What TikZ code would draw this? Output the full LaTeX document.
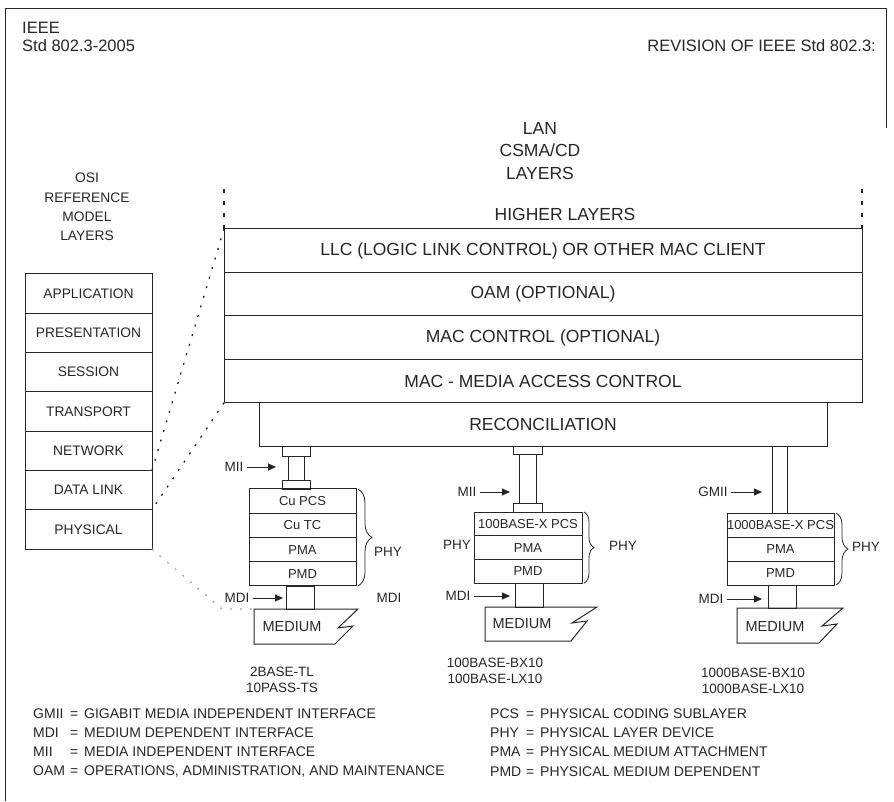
\documentclass[tikz,border=0pt]{standalone}
\usepackage{fontspec}
\setmainfont{Liberation Sans}
\usetikzlibrary{arrows.meta,positioning,decorations.pathreplacing}
\tikzset{
    layer/.style={draw, line width=1pt, minimum width=638pt,
                  minimum height=43.5pt, inner sep=0pt, outer sep=0pt,
                  font=\fontsize{17.5}{20}\selectfont},
    osi/.style={layer, minimum width=127pt, minimum height=39.3pt,
                font=\fontsize{13.8}{16}\selectfont},
    sub/.style={layer, minimum width=107pt, minimum height=24pt,
                font=\fontsize{13}{15}\selectfont},
    pipe/.style={draw, line width=1pt, inner sep=0pt, outer sep=0pt, anchor=north},
    flow/.style={-{Triangle[length=8pt,width=7pt]}, line width=1pt, shorten <=3pt},
    phybrace/.style={decorate, decoration={brace, amplitude=#1}, line width=0.8pt},
    link/.style={line width=1.3pt, dash pattern=on 2pt off 8pt},
    faint/.style={link, black!35},
    vdots/.style={line width=2pt, dash pattern=on 4pt off 8pt},
    frame/.style={line width=1pt},
    medium/.style={line width=1pt, line join=miter},
    note/.style={font=\fontsize{13.5}{16}\selectfont, inner sep=0pt},
    head/.style={font=\fontsize{16.5}{19}\selectfont, inner sep=0pt, anchor=west},
    title/.style={font=\fontsize{17.5}{21.5}\selectfont, align=center, inner sep=0pt},
    names/.style={note, align=center, font=\fontsize{13.5}{15.5}\selectfont},
    legend/.style={font=\fontsize{14}{16}\selectfont, anchor=west, inner sep=0pt},
}

\begin{document}
\begin{tikzpicture}[x=1pt, y=-1pt, color=black!85]

    \useasboundingbox (0,0) rectangle (894,801);
    \draw[frame] (5,801) -- (5,8) -- (886,8) -- (886,128);

    \node[head] (ieee) at (22,28) {IEEE};
    \node[head] (std) at (22,46) {Std 802.3-2005};
    \node[head, anchor=east] (rev) at (876,46) {REVISION OF IEEE Std 802.3:};

    \node[title, font=\fontsize{17.5}{22.5}\selectfont] (lan) at (540,151) {LAN\\CSMA/CD\\LAYERS};
    \node[title, font=\fontsize{13.8}{19.3}\selectfont] (osititle) at (87,207) {OSI\\REFERENCE\\MODEL\\LAYERS};
    \node[title] (higher) at (565,214) {HIGHER LAYERS};

    \node[layer] (llc) at (543,250.5) {LLC (LOGIC LINK CONTROL) OR OTHER MAC CLIENT};
    \node[layer, below=0pt of llc] (oam) {OAM (OPTIONAL)};
    \node[layer, below=0pt of oam] (macctl) {MAC CONTROL (OPTIONAL)};
    \node[layer, below=0pt of macctl] (mac) {MAC - MEDIA ACCESS CONTROL};
    \node[layer, minimum width=568pt, below=0pt of mac] (recon) {RECONCILIATION};
    \coordinate (topl) at (224,189);
    \coordinate (topr) at (862,189);
    \draw[vdots] (topl) -- (llc.north west);
    \draw[vdots] (topr) -- (llc.north east);

    \node[osi] (app) at (88.5,293.6) {APPLICATION};
    \node[osi, below=0pt of app] (pres) {PRESENTATION};
    \node[osi, below=0pt of pres] (sess) {SESSION};
    \node[osi, below=0pt of sess] (trans) {TRANSPORT};
    \node[osi, below=0pt of trans] (net) {NETWORK};
    \node[osi, below=0pt of net] (dlink) {DATA LINK};
    \node[osi, below=0pt of dlink] (phys) {PHYSICAL};
    \draw[link] (llc.north west) -- (dlink.north east);
    \draw[link] (mac.south west) -- (dlink.south east);

    \node[sub, minimum height=24.25pt] (cupcs) at (302.5,501.1) {Cu PCS};
    \node[sub, minimum height=24.25pt, below=0pt of cupcs] (cutc) {Cu TC};
    \node[sub, minimum height=24.25pt, below=0pt of cutc] (pma1) {PMA};
    \node[sub, minimum height=24.25pt, below=0pt of pma1] (pmd1) {PMD};
    \node[pipe, minimum width=28pt, minimum height=10pt] (plug1) at (296,446.25) {};
    \node[pipe, minimum width=16pt, minimum height=24pt, below=0pt of plug1] (tube1) {};
    \node[pipe, minimum width=28pt, minimum height=9pt, below=0pt of tube1] (jack1) {};
    \node[pipe, minimum width=28pt, minimum height=23pt] (stem1) at (300,586) {};
    \node[note] (mii1) at (234,467) {MII};
    \draw[flow, shorten >=12pt] (mii1.east) -- (mii1 -| tube1.west);
    \node[note] (mdi1) at (237,598) {MDI};
    \draw[flow, shorten >=3pt] (mdi1.east) -- (mdi1 -| stem1.west);
    \node[note] (mdi1b) at (389,598) {MDI};
    \draw[phybrace=14pt] ([xshift=2pt]cupcs.north east) -- ([xshift=2pt]pmd1.south east);
    \node[note] (phy1) at (388,552) {PHY};
    \coordinate (m1) at (254,609);
    \draw[medium] (m1) -- ++(104,0) -- ++(-20,19) -- ++(15,-2) -- ++(-18,18) -- ++(-81,0) -- cycle;
    \node[note, font=\fontsize{14.5}{16}\selectfont] (med1) at (292,627) {MEDIUM};
    \draw[faint] (phys.south east) -- ([xshift=-32pt]m1) -- (m1);
    \node[names] (std1) at (282,680) {2BASE-TL\\10PASS-TS};

    \node[sub, minimum width=108pt, minimum height=23.7pt] (pcs2) at (528,523.85) {100BASE-X PCS};
    \node[sub, minimum width=108pt, minimum height=23.7pt, below=0pt of pcs2] (pma2) {PMA};
    \node[sub, minimum width=108pt, minimum height=23.7pt, below=0pt of pma2] (pmd2) {PMD};
    \node[pipe, minimum width=29pt, minimum height=8pt] (plug2) at (527.5,446.25) {};
    \node[pipe, minimum width=17pt, minimum height=49pt, below=0pt of plug2] (tube2) {};
    \node[pipe, minimum width=29pt, minimum height=8.75pt, below=0pt of tube2] (jack2) {};
    \node[pipe, minimum width=28pt, minimum height=24pt] (stem2) at (529,583.1) {};
    \node[note] (mii2) at (467,492) {MII};
    \draw[flow, shorten >=9pt] (mii2.east) -- (mii2 -| tube2.west);
    \node[note] (mdi2) at (458,596) {MDI};
    \draw[flow, shorten >=5pt] (mdi2.east) -- (mdi2 -| stem2.west);
    \node[note] (phy2a) at (457,545) {PHY};
    \draw[phybrace=10pt] ([xshift=2pt]pcs2.north east) -- ([xshift=2pt]pmd2.south east);
    \node[note] (phy2) at (623,546) {PHY};
    \coordinate (m2) at (485,607);
    \draw[medium] (m2) -- ++(112,0) -- ++(-25,16) -- ++(15,-2) -- ++(-16,20) -- ++(-86,0) -- cycle;
    \node[note, font=\fontsize{14.5}{16}\selectfont] (med2) at (522,624) {MEDIUM};
    \node[names] (std2) at (495,671) {100BASE-BX10\\100BASE-LX10};

    \node[sub] (pcs3) at (780.5,525) {1000BASE-X PCS};
    \node[sub, below=0pt of pcs3] (pma3) {PMA};
    \node[sub, below=0pt of pma3] (pmd3) {PMD};
    \node[pipe, minimum width=15pt, minimum height=66.75pt] (tube3) at (779.5,446.25) {};
    \node[pipe, minimum width=28pt, minimum height=23pt] (stem3) at (782,585) {};
    \node[note] (gmii3) at (713,492) {GMII};
    \draw[flow, shorten >=10pt] (gmii3.east) -- (gmii3 -| tube3.west);
    \node[note] (mdi3) at (711,599) {MDI};
    \draw[flow, shorten >=6pt] (mdi3.east) -- (mdi3 -| stem3.west);
    \draw[phybrace=12pt] ([xshift=2pt]pcs3.north east) -- ([xshift=2pt]pmd3.south east);
    \node[note] (phy3) at (866,547) {PHY};
    \coordinate (m3) at (737,608);
    \draw[medium] (m3) -- ++(106,0) -- ++(-21,18) -- ++(15,-2) -- ++(-18,19) -- ++(-82,0) -- cycle;
    \node[note, font=\fontsize{14.5}{16}\selectfont] (med3) at (775,627) {MEDIUM};
    \node[names] (std3) at (753,681) {1000BASE-BX10\\1000BASE-LX10};

    \node[legend] (lgmii) at (33,714) {\makebox[37pt][l]{GMII}\makebox[14pt][l]{=}GIGABIT MEDIA INDEPENDENT INTERFACE};
    \node[legend] (lmdi) at (33,733) {\makebox[37pt][l]{MDI}\makebox[14pt][l]{=}MEDIUM DEPENDENT INTERFACE};
    \node[legend] (lmii) at (33,752) {\makebox[37pt][l]{MII}\makebox[14pt][l]{=}MEDIA INDEPENDENT INTERFACE};
    \node[legend] (loam) at (33,771) {\makebox[37pt][l]{OAM}\makebox[14pt][l]{=}OPERATIONS, ADMINISTRATION, AND MAINTENANCE};
    \node[legend] (lpcs) at (490,714) {\makebox[36pt][l]{PCS}\makebox[14pt][l]{=}PHYSICAL CODING SUBLAYER};
    \node[legend] (lphy) at (490,733) {\makebox[36pt][l]{PHY}\makebox[14pt][l]{=}PHYSICAL LAYER DEVICE};
    \node[legend] (lpma) at (490,752) {\makebox[36pt][l]{PMA}\makebox[14pt][l]{=}PHYSICAL MEDIUM ATTACHMENT};
    \node[legend] (lpmd) at (490,772) {\makebox[36pt][l]{PMD}\makebox[14pt][l]{=}PHYSICAL MEDIUM DEPENDENT};

\end{tikzpicture}
\end{document}
